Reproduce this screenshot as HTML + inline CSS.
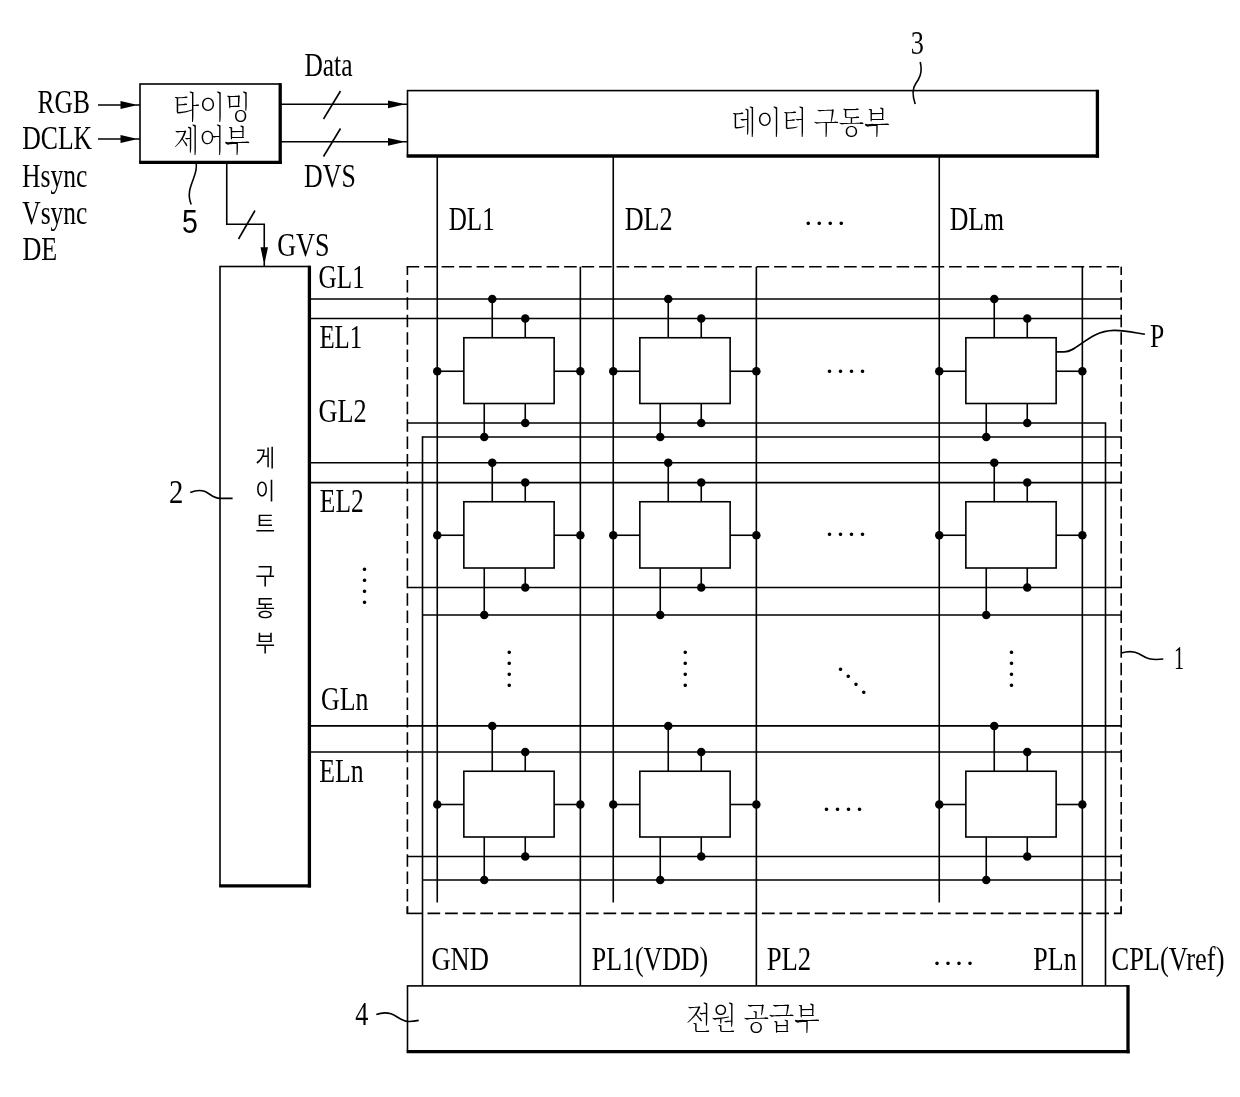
<!DOCTYPE html>
<html lang="ko"><head><meta charset="utf-8"><title>Display driving circuit block diagram</title>
<style>
html,body{margin:0;padding:0;background:#fff;}
body{width:1240px;height:1097px;overflow:hidden;}
svg{display:block;will-change:transform;}
.g line,.g rect,.g path,.g polyline{stroke:#000;fill:none;stroke-linecap:butt;}
.g rect{fill:#fff;}
.lt{font-family:"Liberation Serif","Noto Serif CJK SC",serif;fill:#000;stroke:none;}
.ss{font-family:"Liberation Sans","Noto Sans CJK KR",sans-serif;fill:#000;stroke:none;}
.kg{font-family:"Liberation Sans","Noto Sans CJK KR","NanumGothic",sans-serif;font-weight:350;fill:#000;stroke:none;}
.ko{font-family:"Liberation Serif","Noto Serif CJK SC","Noto Sans CJK KR",serif;font-weight:200;fill:#000;stroke:none;}
</style></head><body>
<svg width="1240" height="1097" viewBox="0 0 1240 1097">
<rect x="0" y="0" width="1240" height="1097" fill="#fff"/>
<g class="g">
<line x1="406.59999999999997" y1="266.75" x2="1122.0" y2="266.75" stroke-width="1.6" stroke-dasharray="12.6 4.9"/>
<line x1="407.4" y1="266.75" x2="407.4" y2="913.4" stroke-width="1.6" stroke-dasharray="12.5 4.9" stroke-dashoffset="4.2"/>
<line x1="1121.2" y1="266.75" x2="1121.2" y2="913.4" stroke-width="1.6" stroke-dasharray="12.5 4.9" stroke-dashoffset="4.2"/>
<line x1="406.59999999999997" y1="913.4" x2="422.5" y2="913.4" stroke-width="1.6" />
<line x1="427.5" y1="913.4" x2="1122.0" y2="913.4" stroke-width="1.6" stroke-dasharray="12.7 4.9"/>
<line x1="407.4" y1="906.4" x2="407.4" y2="913.4" stroke-width="1.6" />
<line x1="1121.2" y1="906.4" x2="1121.2" y2="913.4" stroke-width="1.6" />
<line x1="309.4" y1="298.95" x2="1121.2" y2="298.95" stroke-width="1.6" />
<line x1="309.4" y1="318.5" x2="1121.2" y2="318.5" stroke-width="1.6" />
<line x1="309.4" y1="462.8" x2="1121.2" y2="462.8" stroke-width="1.6" />
<line x1="309.4" y1="482.6" x2="1121.2" y2="482.6" stroke-width="1.6" />
<line x1="309.4" y1="725.9" x2="1121.2" y2="725.9" stroke-width="1.6" />
<line x1="309.4" y1="752.0" x2="1121.2" y2="752.0" stroke-width="1.6" />
<polyline points="407.4,423 1105.5,423 1105.5,985.9" stroke-width="1.6"/>
<line x1="422.5" y1="437" x2="1121.2" y2="437" stroke-width="1.6" />
<line x1="407.4" y1="587.5" x2="1121.2" y2="587.5" stroke-width="1.6" />
<line x1="422.5" y1="615" x2="1121.2" y2="615" stroke-width="1.6" />
<line x1="407.4" y1="856.5" x2="1121.2" y2="856.5" stroke-width="1.6" />
<line x1="422.5" y1="880" x2="1121.2" y2="880" stroke-width="1.6" />
<line x1="422.5" y1="436.2" x2="422.5" y2="985.9" stroke-width="1.6" />
<line x1="437.25" y1="156" x2="437.25" y2="902.5" stroke-width="1.6" />
<line x1="580.35" y1="266.75" x2="580.35" y2="985.9" stroke-width="1.6" />
<line x1="613.25" y1="156" x2="613.25" y2="902.5" stroke-width="1.6" />
<line x1="756.35" y1="266.75" x2="756.35" y2="985.9" stroke-width="1.6" />
<line x1="939.25" y1="156" x2="939.25" y2="902.5" stroke-width="1.6" />
<line x1="1082.35" y1="266.75" x2="1082.35" y2="985.9" stroke-width="1.6" />
<line x1="492.25" y1="298.95" x2="492.25" y2="337.75" stroke-width="1.6" />
<line x1="525.25" y1="318.5" x2="525.25" y2="337.75" stroke-width="1.6" />
<line x1="484.25" y1="403.5" x2="484.25" y2="437" stroke-width="1.6" />
<line x1="525.25" y1="403.5" x2="525.25" y2="423" stroke-width="1.6" />
<line x1="437.25" y1="371.25" x2="463.85" y2="371.25" stroke-width="1.6" />
<line x1="554.15" y1="371.25" x2="580.35" y2="371.25" stroke-width="1.6" />
<rect x="463.85" y="337.75" width="90.29999999999995" height="65.75" stroke-width="1.6"/>
<circle cx="492.25" cy="298.95" r="4.25" fill="#000" stroke="none"/>
<circle cx="525.25" cy="318.5" r="4.25" fill="#000" stroke="none"/>
<circle cx="484.25" cy="437" r="4.25" fill="#000" stroke="none"/>
<circle cx="525.25" cy="423" r="4.25" fill="#000" stroke="none"/>
<circle cx="437.25" cy="371.25" r="4.25" fill="#000" stroke="none"/>
<circle cx="580.35" cy="371.25" r="4.25" fill="#000" stroke="none"/>
<line x1="668.25" y1="298.95" x2="668.25" y2="337.75" stroke-width="1.6" />
<line x1="701.25" y1="318.5" x2="701.25" y2="337.75" stroke-width="1.6" />
<line x1="660.25" y1="403.5" x2="660.25" y2="437" stroke-width="1.6" />
<line x1="701.25" y1="403.5" x2="701.25" y2="423" stroke-width="1.6" />
<line x1="613.25" y1="371.25" x2="639.85" y2="371.25" stroke-width="1.6" />
<line x1="730.15" y1="371.25" x2="756.35" y2="371.25" stroke-width="1.6" />
<rect x="639.85" y="337.75" width="90.29999999999995" height="65.75" stroke-width="1.6"/>
<circle cx="668.25" cy="298.95" r="4.25" fill="#000" stroke="none"/>
<circle cx="701.25" cy="318.5" r="4.25" fill="#000" stroke="none"/>
<circle cx="660.25" cy="437" r="4.25" fill="#000" stroke="none"/>
<circle cx="701.25" cy="423" r="4.25" fill="#000" stroke="none"/>
<circle cx="613.25" cy="371.25" r="4.25" fill="#000" stroke="none"/>
<circle cx="756.35" cy="371.25" r="4.25" fill="#000" stroke="none"/>
<line x1="994.25" y1="298.95" x2="994.25" y2="337.75" stroke-width="1.6" />
<line x1="1027.25" y1="318.5" x2="1027.25" y2="337.75" stroke-width="1.6" />
<line x1="986.25" y1="403.5" x2="986.25" y2="437" stroke-width="1.6" />
<line x1="1027.25" y1="403.5" x2="1027.25" y2="423" stroke-width="1.6" />
<line x1="939.25" y1="371.25" x2="965.85" y2="371.25" stroke-width="1.6" />
<line x1="1056.15" y1="371.25" x2="1082.35" y2="371.25" stroke-width="1.6" />
<rect x="965.85" y="337.75" width="90.30000000000007" height="65.75" stroke-width="1.6"/>
<circle cx="994.25" cy="298.95" r="4.25" fill="#000" stroke="none"/>
<circle cx="1027.25" cy="318.5" r="4.25" fill="#000" stroke="none"/>
<circle cx="986.25" cy="437" r="4.25" fill="#000" stroke="none"/>
<circle cx="1027.25" cy="423" r="4.25" fill="#000" stroke="none"/>
<circle cx="939.25" cy="371.25" r="4.25" fill="#000" stroke="none"/>
<circle cx="1082.35" cy="371.25" r="4.25" fill="#000" stroke="none"/>
<line x1="492.25" y1="462.8" x2="492.25" y2="501.75" stroke-width="1.6" />
<line x1="525.25" y1="482.6" x2="525.25" y2="501.75" stroke-width="1.6" />
<line x1="484.25" y1="568" x2="484.25" y2="615" stroke-width="1.6" />
<line x1="525.25" y1="568" x2="525.25" y2="587.5" stroke-width="1.6" />
<line x1="437.25" y1="535.25" x2="463.85" y2="535.25" stroke-width="1.6" />
<line x1="554.15" y1="535.25" x2="580.35" y2="535.25" stroke-width="1.6" />
<rect x="463.85" y="501.75" width="90.29999999999995" height="66.25" stroke-width="1.6"/>
<circle cx="492.25" cy="462.8" r="4.25" fill="#000" stroke="none"/>
<circle cx="525.25" cy="482.6" r="4.25" fill="#000" stroke="none"/>
<circle cx="484.25" cy="615" r="4.25" fill="#000" stroke="none"/>
<circle cx="525.25" cy="587.5" r="4.25" fill="#000" stroke="none"/>
<circle cx="437.25" cy="535.25" r="4.25" fill="#000" stroke="none"/>
<circle cx="580.35" cy="535.25" r="4.25" fill="#000" stroke="none"/>
<line x1="668.25" y1="462.8" x2="668.25" y2="501.75" stroke-width="1.6" />
<line x1="701.25" y1="482.6" x2="701.25" y2="501.75" stroke-width="1.6" />
<line x1="660.25" y1="568" x2="660.25" y2="615" stroke-width="1.6" />
<line x1="701.25" y1="568" x2="701.25" y2="587.5" stroke-width="1.6" />
<line x1="613.25" y1="535.25" x2="639.85" y2="535.25" stroke-width="1.6" />
<line x1="730.15" y1="535.25" x2="756.35" y2="535.25" stroke-width="1.6" />
<rect x="639.85" y="501.75" width="90.29999999999995" height="66.25" stroke-width="1.6"/>
<circle cx="668.25" cy="462.8" r="4.25" fill="#000" stroke="none"/>
<circle cx="701.25" cy="482.6" r="4.25" fill="#000" stroke="none"/>
<circle cx="660.25" cy="615" r="4.25" fill="#000" stroke="none"/>
<circle cx="701.25" cy="587.5" r="4.25" fill="#000" stroke="none"/>
<circle cx="613.25" cy="535.25" r="4.25" fill="#000" stroke="none"/>
<circle cx="756.35" cy="535.25" r="4.25" fill="#000" stroke="none"/>
<line x1="994.25" y1="462.8" x2="994.25" y2="501.75" stroke-width="1.6" />
<line x1="1027.25" y1="482.6" x2="1027.25" y2="501.75" stroke-width="1.6" />
<line x1="986.25" y1="568" x2="986.25" y2="615" stroke-width="1.6" />
<line x1="1027.25" y1="568" x2="1027.25" y2="587.5" stroke-width="1.6" />
<line x1="939.25" y1="535.25" x2="965.85" y2="535.25" stroke-width="1.6" />
<line x1="1056.15" y1="535.25" x2="1082.35" y2="535.25" stroke-width="1.6" />
<rect x="965.85" y="501.75" width="90.30000000000007" height="66.25" stroke-width="1.6"/>
<circle cx="994.25" cy="462.8" r="4.25" fill="#000" stroke="none"/>
<circle cx="1027.25" cy="482.6" r="4.25" fill="#000" stroke="none"/>
<circle cx="986.25" cy="615" r="4.25" fill="#000" stroke="none"/>
<circle cx="1027.25" cy="587.5" r="4.25" fill="#000" stroke="none"/>
<circle cx="939.25" cy="535.25" r="4.25" fill="#000" stroke="none"/>
<circle cx="1082.35" cy="535.25" r="4.25" fill="#000" stroke="none"/>
<line x1="492.25" y1="725.9" x2="492.25" y2="771.25" stroke-width="1.6" />
<line x1="525.25" y1="752.0" x2="525.25" y2="771.25" stroke-width="1.6" />
<line x1="484.25" y1="837" x2="484.25" y2="880" stroke-width="1.6" />
<line x1="525.25" y1="837" x2="525.25" y2="856.5" stroke-width="1.6" />
<line x1="437.25" y1="804.5" x2="463.85" y2="804.5" stroke-width="1.6" />
<line x1="554.15" y1="804.5" x2="580.35" y2="804.5" stroke-width="1.6" />
<rect x="463.85" y="771.25" width="90.29999999999995" height="65.75" stroke-width="1.6"/>
<circle cx="492.25" cy="725.9" r="4.25" fill="#000" stroke="none"/>
<circle cx="525.25" cy="752.0" r="4.25" fill="#000" stroke="none"/>
<circle cx="484.25" cy="880" r="4.25" fill="#000" stroke="none"/>
<circle cx="525.25" cy="856.5" r="4.25" fill="#000" stroke="none"/>
<circle cx="437.25" cy="804.5" r="4.25" fill="#000" stroke="none"/>
<circle cx="580.35" cy="804.5" r="4.25" fill="#000" stroke="none"/>
<line x1="668.25" y1="725.9" x2="668.25" y2="771.25" stroke-width="1.6" />
<line x1="701.25" y1="752.0" x2="701.25" y2="771.25" stroke-width="1.6" />
<line x1="660.25" y1="837" x2="660.25" y2="880" stroke-width="1.6" />
<line x1="701.25" y1="837" x2="701.25" y2="856.5" stroke-width="1.6" />
<line x1="613.25" y1="804.5" x2="639.85" y2="804.5" stroke-width="1.6" />
<line x1="730.15" y1="804.5" x2="756.35" y2="804.5" stroke-width="1.6" />
<rect x="639.85" y="771.25" width="90.29999999999995" height="65.75" stroke-width="1.6"/>
<circle cx="668.25" cy="725.9" r="4.25" fill="#000" stroke="none"/>
<circle cx="701.25" cy="752.0" r="4.25" fill="#000" stroke="none"/>
<circle cx="660.25" cy="880" r="4.25" fill="#000" stroke="none"/>
<circle cx="701.25" cy="856.5" r="4.25" fill="#000" stroke="none"/>
<circle cx="613.25" cy="804.5" r="4.25" fill="#000" stroke="none"/>
<circle cx="756.35" cy="804.5" r="4.25" fill="#000" stroke="none"/>
<line x1="994.25" y1="725.9" x2="994.25" y2="771.25" stroke-width="1.6" />
<line x1="1027.25" y1="752.0" x2="1027.25" y2="771.25" stroke-width="1.6" />
<line x1="986.25" y1="837" x2="986.25" y2="880" stroke-width="1.6" />
<line x1="1027.25" y1="837" x2="1027.25" y2="856.5" stroke-width="1.6" />
<line x1="939.25" y1="804.5" x2="965.85" y2="804.5" stroke-width="1.6" />
<line x1="1056.15" y1="804.5" x2="1082.35" y2="804.5" stroke-width="1.6" />
<rect x="965.85" y="771.25" width="90.30000000000007" height="65.75" stroke-width="1.6"/>
<circle cx="994.25" cy="725.9" r="4.25" fill="#000" stroke="none"/>
<circle cx="1027.25" cy="752.0" r="4.25" fill="#000" stroke="none"/>
<circle cx="986.25" cy="880" r="4.25" fill="#000" stroke="none"/>
<circle cx="1027.25" cy="856.5" r="4.25" fill="#000" stroke="none"/>
<circle cx="939.25" cy="804.5" r="4.25" fill="#000" stroke="none"/>
<circle cx="1082.35" cy="804.5" r="4.25" fill="#000" stroke="none"/>
<rect x="407.5" y="90.6" width="689.9000000000001" height="65.4" fill="#fff" stroke-width="1.6"/>
<line x1="1097.4" y1="89.8" x2="1097.4" y2="157.65" stroke-width="3.3" />
<line x1="406.7" y1="156" x2="1099.0500000000002" y2="156" stroke-width="3.3" />
<rect x="140" y="84" width="140.2" height="78.30000000000001" fill="#fff" stroke-width="1.6"/>
<line x1="280.2" y1="83.2" x2="280.2" y2="163.95000000000002" stroke-width="3.3" />
<line x1="139.2" y1="162.3" x2="281.84999999999997" y2="162.3" stroke-width="3.3" />
<rect x="220.0" y="266.5" width="89.39999999999998" height="619.3" fill="#fff" stroke-width="1.6"/>
<line x1="309.4" y1="265.7" x2="309.4" y2="887.4499999999999" stroke-width="3.3" />
<line x1="219.2" y1="885.8" x2="311.04999999999995" y2="885.8" stroke-width="3.3" />
<rect x="407.5" y="985.9" width="720.5" height="65.69999999999993" fill="#fff" stroke-width="1.6"/>
<line x1="1128.0" y1="985.1" x2="1128.0" y2="1053.25" stroke-width="3.3" />
<line x1="406.7" y1="1051.6" x2="1129.65" y2="1051.6" stroke-width="3.3" />
<line x1="98" y1="105.0" x2="140" y2="105.0" stroke-width="1.6" />
<path d="M134.5,104.2 L120.5,101.1 L120.5,108.9 L134.5,105.8 Z" style="fill:#000;stroke:none"/>
<line x1="98" y1="139.0" x2="140" y2="139.0" stroke-width="1.6" />
<path d="M134.5,138.2 L120.5,135.1 L120.5,142.9 L134.5,139.8 Z" style="fill:#000;stroke:none"/>
<line x1="280.2" y1="104.3" x2="407.5" y2="104.3" stroke-width="1.6" />
<path d="M402.0,103.5 L388.0,100.39999999999999 L388.0,108.2 L402.0,105.1 Z" style="fill:#000;stroke:none"/>
<line x1="280.2" y1="141.8" x2="407.5" y2="141.8" stroke-width="1.6" />
<path d="M402.0,141.0 L388.0,137.9 L388.0,145.70000000000002 L402.0,142.60000000000002 Z" style="fill:#000;stroke:none"/>
<line x1="323.5" y1="119" x2="340.5" y2="91" stroke-width="1.6" />
<line x1="323.5" y1="156.5" x2="340.5" y2="128.5" stroke-width="1.6" />
<polyline points="226.75,162.3 226.75,224.3 264.25,224.3 264.25,266.5" stroke-width="1.6"/>
<path d="M263.45,261 L260.5,247.3 L268,247.3 L265.05,261 Z" style="fill:#000;stroke:none"/>
<line x1="238.5" y1="239" x2="255" y2="210.5" stroke-width="1.6" />
<path d="M196,162.3 C199.5,176 184,187 191.2,204.5" stroke-width="1.6"/>
<path d="M920.2,62 C923,73 919,79 915.5,84 C912,89 912.5,96 915.2,104" stroke-width="1.6"/>
<path d="M190.3,492.6 C195,490.5 200,489.8 204.5,491.3 C210,493.3 213,498.4 220,498.4 L232.6,498.4" stroke-width="1.6"/>
<path d="M1121.2,653.1 C1128,651 1134,650.8 1139.5,654 C1145,657.2 1149,660.8 1163.3,659" stroke-width="1.6"/>
<path d="M376.3,1014.6 C381,1012.8 386,1012.3 391,1013.8 C397,1015.8 401,1021 408,1021.5 C412,1021.7 415,1021.2 418.7,1020.4" stroke-width="1.6"/>
<path d="M1056.3,351.9 L1064,351.9 C1078,351.9 1088,331 1114,330.4 C1126,330.2 1136,333 1144.9,334.3" stroke-width="1.6"/>
</g>
<g>
<text id="rgb" class="lt" x="37.57" y="112.70" font-size="33" textLength="52.27" lengthAdjust="spacingAndGlyphs">RGB</text>
<text id="dclk" class="lt" x="22.18" y="149.20" font-size="33" textLength="69.97" lengthAdjust="spacingAndGlyphs">DCLK</text>
<text id="hsync" class="lt" x="21.92" y="186.60" font-size="33" textLength="65.51" lengthAdjust="spacingAndGlyphs">Hsync</text>
<text id="vsync" class="lt" x="22.25" y="223.50" font-size="33" textLength="65.15" lengthAdjust="spacingAndGlyphs">Vsync</text>
<text id="de" class="lt" x="22.55" y="260.40" font-size="33" textLength="34.76" lengthAdjust="spacingAndGlyphs">DE</text>
<text id="data" class="lt" x="304.38" y="76.20" font-size="33" textLength="48.07" lengthAdjust="spacingAndGlyphs">Data</text>
<text id="dvs" class="lt" x="304.09" y="187.20" font-size="33" textLength="51.68" lengthAdjust="spacingAndGlyphs">DVS</text>
<text id="gvs" class="lt" x="277.20" y="256.20" font-size="33" textLength="52.26" lengthAdjust="spacingAndGlyphs">GVS</text>
<text id="dl1" class="lt" x="448.71" y="230.00" font-size="33" textLength="46.03" lengthAdjust="spacingAndGlyphs">DL1</text>
<text id="dl2" class="lt" x="624.65" y="230.00" font-size="33" textLength="47.91" lengthAdjust="spacingAndGlyphs">DL2</text>
<text id="dlm" class="lt" x="949.71" y="229.70" font-size="33" textLength="54.46" lengthAdjust="spacingAndGlyphs">DLm</text>
<text id="gl1" class="lt" x="318.60" y="288.20" font-size="33" textLength="46.20" lengthAdjust="spacingAndGlyphs">GL1</text>
<text id="el1" class="lt" x="319.38" y="347.80" font-size="33" textLength="42.85" lengthAdjust="spacingAndGlyphs">EL1</text>
<text id="gl2" class="lt" x="318.61" y="421.60" font-size="33" textLength="48.14" lengthAdjust="spacingAndGlyphs">GL2</text>
<text id="el2" class="lt" x="319.87" y="512.00" font-size="33" textLength="43.86" lengthAdjust="spacingAndGlyphs">EL2</text>
<text id="gln" class="lt" x="321.12" y="709.60" font-size="33" textLength="47.31" lengthAdjust="spacingAndGlyphs">GLn</text>
<text id="eln" class="lt" x="319.16" y="781.70" font-size="33" textLength="44.42" lengthAdjust="spacingAndGlyphs">ELn</text>
<text id="gnd" class="lt" x="431.47" y="969.70" font-size="33" textLength="57.47" lengthAdjust="spacingAndGlyphs">GND</text>
<text id="pl1" class="lt" x="591.78" y="969.80" font-size="33" textLength="116.39" lengthAdjust="spacingAndGlyphs">PL1(VDD)</text>
<text id="pl2" class="lt" x="766.65" y="969.80" font-size="33" textLength="44.60" lengthAdjust="spacingAndGlyphs">PL2</text>
<text id="pln" class="lt" x="1033.37" y="969.70" font-size="33" textLength="43.25" lengthAdjust="spacingAndGlyphs">PLn</text>
<text id="cpl" class="lt" x="1111.53" y="969.70" font-size="33" textLength="112.94" lengthAdjust="spacingAndGlyphs">CPL(Vref)</text>
<text id="p" class="lt" x="1150.06" y="346.60" font-size="33" textLength="14.23" lengthAdjust="spacingAndGlyphs">P</text>
<text id="n3" class="lt" x="910.77" y="53.60" font-size="33" textLength="13.15" lengthAdjust="spacingAndGlyphs">3</text>
<text id="n2" class="lt" x="168.96" y="502.60" font-size="33" textLength="14.37" lengthAdjust="spacingAndGlyphs">2</text>
<text id="n1" class="lt" x="1174.00" y="668.80" font-size="33" textLength="10.11" lengthAdjust="spacingAndGlyphs">1</text>
<text id="n4" class="lt" x="355.25" y="1025.40" font-size="33" textLength="13.08" lengthAdjust="spacingAndGlyphs">4</text>
<text id="n5" class="ss" x="181.95" y="232.50" font-size="33" textLength="15.87" lengthAdjust="spacingAndGlyphs">5</text>
<text id="k1" class="ko" x="173.27" y="117.80" font-size="31" textLength="77.86" lengthAdjust="spacingAndGlyphs">타이밍</text>
<text id="k2" class="ko" x="173.86" y="151.00" font-size="31" textLength="76.11" lengthAdjust="spacingAndGlyphs">제어부</text>
<text id="k3" class="ko" x="730.97" y="132.80" font-size="31" textLength="158.55" lengthAdjust="spacingAndGlyphs">데이터 구동부</text>
<text id="k4" class="ko" x="685.93" y="1029.10" font-size="31" textLength="133.80" lengthAdjust="spacingAndGlyphs">전원 공급부</text>
<text class="lt" font-size="30" x="804.46 815.46 826.46 837.46" y="225.07 225.07 225.07 225.07">....</text>
<text class="lt" font-size="30" x="825.86 836.81 847.76 858.71" y="373.17 373.17 373.17 373.17">....</text>
<text class="lt" font-size="30" x="825.86 836.81 847.76 858.71" y="536.07 536.07 536.07 536.07">....</text>
<text class="lt" font-size="30" x="822.66 833.73 844.80 855.87" y="811.37 811.37 811.37 811.37">....</text>
<text class="lt" font-size="30" x="933.31 944.31 955.31 966.31" y="964.73 964.73 964.73 964.73">....</text>
<text class="lt" font-size="30" x="360.76 360.76 360.76 360.76" y="571.27 582.27 593.27 604.27">....</text>
<text class="lt" font-size="30" x="505.41 505.41 505.41 505.41" y="654.27 665.24 676.21 687.18">....</text>
<text class="lt" font-size="30" x="681.51 681.51 681.51 681.51" y="654.27 665.24 676.21 687.18">....</text>
<text class="lt" font-size="30" x="1007.66 1007.66 1007.66 1007.66" y="654.07 665.04 676.01 686.98">....</text>
<text class="lt" font-size="30" x="836.66 844.46 852.26 860.06" y="670.67 678.47 686.27 694.07">....</text>
<text id="v0" class="kg" x="255.3" y="465.8" font-size="23" textLength="20.0" lengthAdjust="spacingAndGlyphs">게</text>
<text id="v1" class="kg" x="255.3" y="499.3" font-size="23" textLength="20.0" lengthAdjust="spacingAndGlyphs">이</text>
<text id="v2" class="kg" x="255.3" y="531.7" font-size="23" textLength="20.0" lengthAdjust="spacingAndGlyphs">트</text>
<text id="v3" class="kg" x="255.3" y="583.6" font-size="23" textLength="20.0" lengthAdjust="spacingAndGlyphs">구</text>
<text id="v4" class="kg" x="255.3" y="615.5" font-size="23" textLength="20.0" lengthAdjust="spacingAndGlyphs">동</text>
<text id="v5" class="kg" x="255.3" y="650.5" font-size="23" textLength="20.0" lengthAdjust="spacingAndGlyphs">부</text>
</g>
</svg></body></html>
